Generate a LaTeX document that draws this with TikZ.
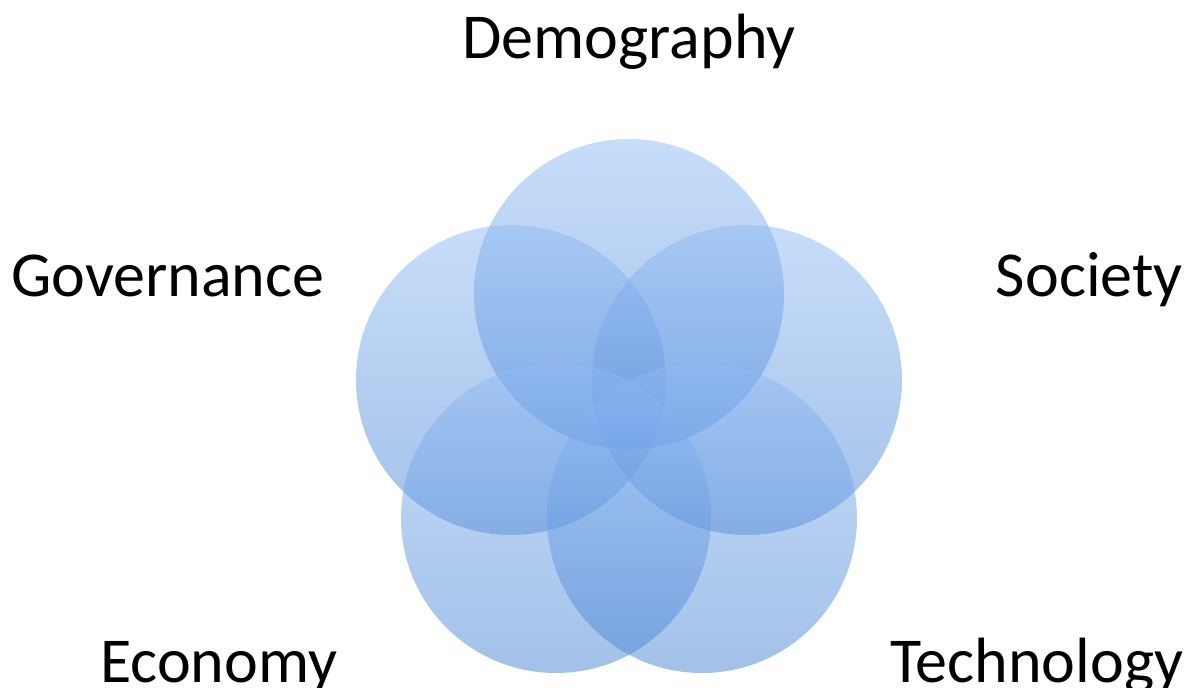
\documentclass[tikz,border=0pt]{standalone}
\usepackage{fontspec}
\setmainfont{Carlito}
\definecolor{ctop}{RGB}{145,187,245}
\definecolor{cbot}{RGB}{71,131,211}
\tikzset{
  venn/.style={top color=ctop, bottom color=cbot, fill opacity=0.5, draw=none},
  lbl/.style={inner sep=0pt, font=\fontsize{64}{76}\selectfont, text=black}
}
\begin{document}
\begin{tikzpicture}[x=1pt,y=-1pt]
\useasboundingbox (0,0) rectangle (1186,688);
\shade[venn] (629,294) circle (155);
\shade[venn] (511,380) circle (155);
\shade[venn] (747,380) circle (155);
\shade[venn] (556,518) circle (155);
\shade[venn] (702,518) circle (155);
\node[lbl, anchor=base] (demo) at (629,58) {Demography};
\node[lbl, anchor=base west] (gov) at (11,296) {Governance};
\node[lbl, anchor=base east] (soc) at (1183,296) {Society};
\node[lbl, anchor=base west] (eco) at (100,682) {Economy};
\node[lbl, anchor=base west] (tech) at (890,682) {Technology};
\end{tikzpicture}
\end{document}
